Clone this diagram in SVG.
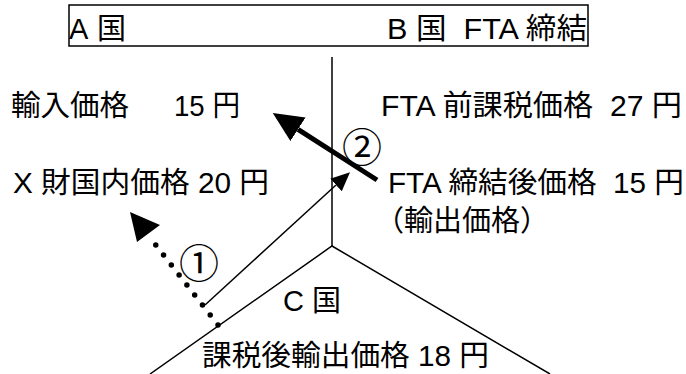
<svg xmlns="http://www.w3.org/2000/svg" width="686" height="374" viewBox="0 0 686 374">
<style>
text{font-family:"Liberation Sans","Noto Sans CJK JP",sans-serif;font-size:29px;fill:#000}
.num{font-family:"Noto Sans CJK JP",sans-serif;font-size:40px;text-anchor:middle}
.ln{stroke:#000;fill:none;stroke-width:1.5}
</style>
<defs>
<marker id="thin" viewBox="0 0 19 17" refX="0" refY="8.5" markerWidth="19" markerHeight="17" markerUnits="userSpaceOnUse" orient="auto"><path d="M0,0 L19,8.5 L0,17 Z" fill="#000"/></marker>
<marker id="thick" viewBox="0 0 30 28" refX="0" refY="14" markerWidth="30" markerHeight="28" markerUnits="userSpaceOnUse" orient="auto"><path d="M0,0 L30,14 L0,28 Z" fill="#000"/></marker>
</defs>
<rect width="686" height="374" fill="#fff"/>
<g id="header">
<rect x="69" y="5" width="519" height="41" fill="#fff" stroke="#000" stroke-width="1.5"/>
<text x="69" y="39" textLength="57" lengthAdjust="spacing">A 国</text>
<text x="387" y="39" xml:space="preserve" textLength="200" lengthAdjust="spacingAndGlyphs">B 国  FTA 締結</text>
</g>
<g id="borders">
<line class="ln" x1="332" y1="57" x2="332" y2="246"/>
<polyline class="ln" points="150,374 332,246 550,374"/>
</g>
<g id="countryA">
<text x="11" y="116"><tspan textLength="118" lengthAdjust="spacingAndGlyphs">輸入価格</tspan><tspan x="174" textLength="66" lengthAdjust="spacingAndGlyphs">15 円</tspan></text>
<text x="13" y="193" textLength="256" lengthAdjust="spacingAndGlyphs">X 財国内価格 20 円</text>
</g>
<g id="countryB">
<text x="381" y="116" xml:space="preserve" textLength="301" lengthAdjust="spacingAndGlyphs">FTA 前課税価格  27 円</text>
<text x="388" y="193" xml:space="preserve" textLength="296" lengthAdjust="spacingAndGlyphs">FTA 締結後価格  15 円</text>
<text x="375" y="231">（輸出価格）</text>
</g>
<g id="countryC">
<text x="283" y="311">C 国</text>
<text x="202" y="366" textLength="287" lengthAdjust="spacingAndGlyphs">課税後輸出価格 18 円</text>
</g>
<g id="connectors">
<line x1="205" y1="305" x2="336" y2="185" stroke="#000" stroke-width="1.5" marker-end="url(#thin)"/>
<line x1="377" y1="180" x2="298" y2="129.3" stroke="#000" stroke-width="5" marker-end="url(#thick)"/>
<line x1="218" y1="325" x2="148" y2="235" stroke="#000" stroke-width="5.5" stroke-linecap="round" stroke-dasharray="0 12.67"/>
<path d="M130,212 L160,225 L137,242 Z" fill="#000"/>
<text class="num" x="199" y="278">①</text>
<text class="num" x="362" y="162">②</text>
</g>
</svg>
